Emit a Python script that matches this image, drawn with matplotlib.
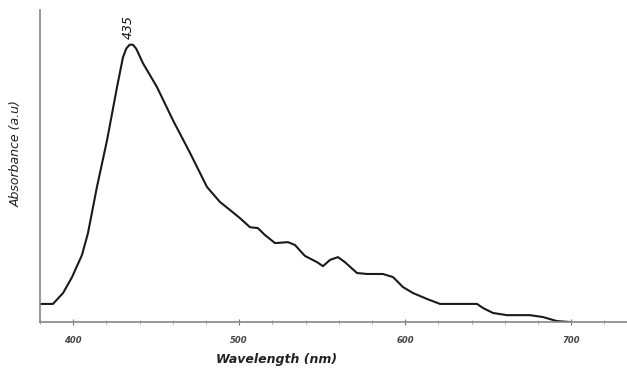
import numpy as np
import matplotlib.pyplot as plt
from matplotlib.ticker import MultipleLocator

# UV-Vis spectrum (absorbance in arbitrary units)
wavelength = [380.0, 387.8, 393.9, 399.3, 405.3, 408.9, 414.3, 420.4, 426.4, 430.0,
              432.0, 434.0, 436.0, 438.0, 442.0, 450.5, 460.1, 470.4, 480.6, 488.4,
              494.5, 500.5, 506.5, 511.3, 515.5, 521.6, 529.4, 533.6, 539.6, 546.9,
              550.5, 554.7, 559.5, 563.7, 571.0, 577.0, 586.6, 592.7, 598.7, 604.7,
              613.1, 621.0, 631.2, 643.3, 646.9, 652.9, 661.3, 675.2, 683.0, 691.4,
              699.3]
absorbance = [0.058, 0.058, 0.093, 0.144, 0.215, 0.285, 0.433, 0.583, 0.753, 0.849,
              0.877, 0.889, 0.889, 0.876, 0.830, 0.753, 0.647, 0.542, 0.433, 0.385,
              0.359, 0.333, 0.304, 0.301, 0.279, 0.253, 0.256, 0.247, 0.212, 0.192,
              0.179, 0.199, 0.208, 0.192, 0.157, 0.154, 0.154, 0.144, 0.112, 0.093,
              0.074, 0.058, 0.058, 0.058, 0.045, 0.029, 0.022, 0.022, 0.016, 0.003,
              0.0]
x_ticks = [400, 500, 600, 700]
peak_label = '435'

fig = plt.figure(figsize=(6.27, 3.70), dpi=100)
ax = fig.add_axes([0.0638, 0.1297, 0.936, 0.843])

ax.plot(wavelength, absorbance, color='#1a1a1a', lw=1.5,
        solid_joinstyle='round', solid_capstyle='round')

# peak annotation
ax.text(433, 0.945, peak_label, rotation=90, ha='center', va='center',
        fontsize=9, style='italic', color='#111111')

ax.set_xlim(380, 733.6)
ax.set_ylim(0, 1)
ax.set_xticks(x_ticks)
ax.set_xticklabels([str(t) for t in x_ticks], fontsize=6, style='italic',
                   fontweight='bold', color='#444444')
ax.xaxis.set_minor_locator(MultipleLocator(20))
ax.tick_params(axis='x', which='major', direction='inout', length=4, width=0.8,
               color='#777777', pad=8)
ax.tick_params(axis='x', which='minor', direction='inout', length=3, width=0.6,
               color='#999999')
ax.set_yticks([])

for side in ['top', 'right']:
    ax.spines[side].set_visible(False)
for side in ['left', 'bottom']:
    ax.spines[side].set_color('#888888')
    ax.spines[side].set_linewidth(1.2)

fig.text(277 / 627, 1 - 360 / 370, 'Wavelength (nm)', ha='center', va='center',
         fontsize=9, style='italic', fontweight='bold', color='#222222')
fig.text(16 / 627, 1 - 154 / 370, 'Absorbance (a.u)', ha='center', va='center',
         rotation=90, fontsize=9, style='italic', color='#222222')

fig.savefig('out.png', dpi=100)
